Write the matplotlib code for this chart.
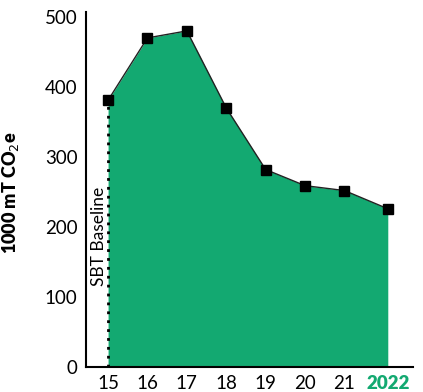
import matplotlib.pyplot as plt

years = ['15', '16', '17', '18', '19', '20', '21', '2022']
xpos = [0, 1, 2, 3, 4, 5, 6, 7.1]
emissions = [381, 470, 480, 370, 282, 259, 252, 226]
yticks = [0, 100, 200, 300, 400, 500]

green = '#13a971'

plt.rcParams['font.family'] = ['Lato', 'DejaVu Sans']

fig = plt.figure(figsize=(4.23, 3.92), dpi=100)
ax = fig.add_axes([86 / 423, 25 / 392, 327 / 423, 355 / 392])

ax.fill_between(xpos, emissions, 0, color=green, lw=0, zorder=1)
ax.plot(xpos, emissions, color='#222222', lw=1, zorder=2)
ax.plot(xpos, emissions, ls='none', marker='s', ms=7.5, color='black', zorder=3)

# baseline marker
ax.plot([xpos[0], xpos[0]], [0, emissions[0] - 5], color='black', ls=(0, (1, 2.2)), lw=2, zorder=2)
ax.text(xpos[0] - 0.22, 187, 'SBT Baseline', rotation=90, ha='center', va='center',
        fontsize=12.5)

ax.set_xlim(-0.56, 7.74)
ax.set_ylim(0, 507)
ax.set_yticks(yticks)
ax.set_yticklabels([str(t) for t in yticks], fontsize=13.5)
ax.set_xticks(xpos)
ax.set_xticklabels(years, fontsize=13.5)
lbl = ax.get_xticklabels()[-1]
lbl.set_color(green)
lbl.set_fontweight('heavy')
ax.tick_params(length=0, pad=6)

for s in ['top', 'right']:
    ax.spines[s].set_visible(False)
for s in ['left', 'bottom']:
    ax.spines[s].set_linewidth(1.5)

ax.set_ylabel('1000 mT CO$_2$e', fontsize=13, fontweight='heavy', labelpad=8)
ax.yaxis.set_label_coords(-0.2, 0.49)

plt.savefig('out.png', dpi=100)
